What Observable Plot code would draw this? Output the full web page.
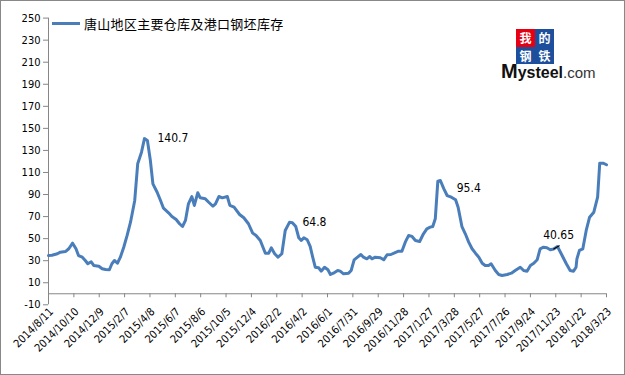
<!DOCTYPE html>
<html><head><meta charset="utf-8">
<script src="https://cdn.jsdelivr.net/npm/d3@7"></script>
<script src="https://cdn.jsdelivr.net/npm/@observablehq/plot@0.6"></script>
<style>
html,body{margin:0;padding:0;background:#fff;}
#wrap{position:relative;width:625px;height:375px;overflow:hidden;background:#fff;}
#chart{position:absolute;left:0;top:0;}
#frame{position:absolute;left:0;top:0;width:623px;height:373px;border:1px solid #888;pointer-events:none;}
#legend{position:absolute;left:52px;top:13px;height:20px;display:flex;align-items:center;font-family:"Noto Sans CJK SC",sans-serif;font-size:13px;letter-spacing:0.3px;color:#000;}
#legend .sw{width:28px;height:3px;background:#4a7ebb;margin-right:4px;}
#logo{position:absolute;left:501px;top:29px;width:95px;height:55px;}
#logo .box{position:absolute;width:19px;height:17.5px;color:#fff;font-family:"Noto Sans CJK SC",serif;font-weight:bold;font-size:12px;display:flex;align-items:center;justify-content:center;}
#logo .word{position:absolute;left:0;top:35px;height:14px;font-family:"Liberation Sans",Arial,sans-serif;color:#111;white-space:nowrap;line-height:14px;}
</style></head>
<body><div id="wrap"><div id="chart"></div>
<div id="legend"><div class="sw"></div><span id="legendText"></span></div>
<div id="logo">
<div class="box" style="left:15px;top:0;background:#e60012"><span>我</span></div>
<div class="box" style="left:34px;top:0;background:#1d4f9c"><span>的</span></div>
<div class="box" style="left:15px;top:17.5px;background:#1d4f9c"><span>钢</span></div>
<div class="box" style="left:34px;top:17.5px;background:#1d4f9c"><span>铁</span></div>
<div class="word"><span style="font-size:20px;font-weight:bold">M</span><span style="font-size:16px;font-weight:bold">ysteel</span><span style="font-size:15px;color:#333">.com</span></div>
</div>
<div id="frame"></div></div>
<script>
const seriesName = "唐山地区主要仓库及港口钢坯库存";
const xTickLabels = ["2014/8/11","2014/10/10","2014/12/9","2015/2/7","2015/4/8","2015/6/7","2015/8/6","2015/10/5","2015/12/4","2016/2/2","2016/4/2","2016/6/1","2016/7/31","2016/9/29","2016/11/28","2017/1/27","2017/3/28","2017/5/27","2017/7/26","2017/9/24","2017/11/23","2018/1/22","2018/3/23"];
const yTicks = [-10,10,30,50,70,90,110,130,150,170,190,210,230,250];
const dates = ["2014-08-11","2014-08-19","2014-09-01","2014-09-08","2014-09-20","2014-09-28","2014-10-07","2014-10-15","2014-10-21","2014-10-30","2014-11-06","2014-11-12","2014-11-20","2014-11-26","2014-12-08","2014-12-16","2014-12-24","2015-01-02","2015-01-08","2015-01-14","2015-01-21","2015-01-28","2015-02-05","2015-02-13","2015-02-21","2015-03-03","2015-03-10","2015-03-19","2015-03-26","2015-04-02","2015-04-09","2015-04-15","2015-04-25","2015-05-03","2015-05-10","2015-05-22","2015-05-30","2015-06-09","2015-06-17","2015-06-24","2015-07-01","2015-07-08","2015-07-16","2015-07-22","2015-07-30","2015-08-05","2015-08-17","2015-08-25","2015-09-04","2015-09-10","2015-09-18","2015-09-26","2015-10-08","2015-10-14","2015-10-24","2015-11-06","2015-11-16","2015-11-27","2015-12-07","2015-12-15","2015-12-25","2016-01-06","2016-01-14","2016-01-20","2016-01-28","2016-02-05","2016-02-14","2016-02-22","2016-03-03","2016-03-10","2016-03-18","2016-03-25","2016-03-31","2016-04-06","2016-04-14","2016-04-21","2016-04-27","2016-05-03","2016-05-11","2016-05-17","2016-05-25","2016-06-02","2016-06-08","2016-06-15","2016-06-25","2016-07-01","2016-07-09","2016-07-21","2016-07-27","2016-08-03","2016-08-11","2016-08-19","2016-08-25","2016-09-02","2016-09-09","2016-09-14","2016-09-22","2016-10-04","2016-10-12","2016-10-20","2016-10-29","2016-11-08","2016-11-16","2016-11-24","2016-12-02","2016-12-10","2016-12-18","2016-12-26","2017-01-05","2017-01-14","2017-01-22","2017-01-30","2017-02-05","2017-02-11","2017-02-17","2017-02-23","2017-03-03","2017-03-11","2017-03-21","2017-03-31","2017-04-06","2017-04-15","2017-04-23","2017-05-01","2017-05-09","2017-05-17","2017-05-25","2017-06-02","2017-06-09","2017-06-17","2017-06-23","2017-07-03","2017-07-11","2017-07-19","2017-07-31","2017-08-10","2017-08-19","2017-08-31","2017-09-08","2017-09-16","2017-09-24","2017-10-02","2017-10-10","2017-10-17","2017-10-25","2017-11-02","2017-11-10","2017-11-18","2017-11-27","2017-12-08","2017-12-18","2017-12-27","2018-01-04","2018-01-10","2018-01-12","2018-01-18","2018-01-26","2018-02-03","2018-02-11","2018-02-21","2018-03-02","2018-03-07","2018-03-15","2018-03-23"];
const values = [34.7,35.0,36.3,37.7,38.3,40.8,45.9,40.8,34.7,33.2,30.2,27.2,29.0,25.7,25.0,22.7,22.0,21.8,27.2,30.2,27.7,33.2,42.2,52.9,64.9,84.6,117.9,128.4,140.7,139.0,120.8,99.7,92.1,84.6,77.6,73.4,70.1,67.4,63.5,61.0,66.5,81.6,88.2,80.1,91.6,87.0,86.1,83.0,79.4,81.6,88.2,87.0,88.2,80.1,78.5,71.9,68.9,63.5,55.0,52.9,48.3,36.8,36.8,41.7,36.3,33.2,36.3,57.4,64.8,64.4,61.0,50.8,48.3,50.8,49.0,42.9,33.2,24.1,23.6,20.5,24.1,21.8,17.5,18.7,21.1,20.5,18.1,18.7,21.1,30.8,33.2,35.6,33.2,31.7,33.8,31.7,33.2,32.6,30.8,35.4,35.6,37.4,38.6,38.6,46.8,52.9,52.0,48.3,47.4,54.4,58.9,60.4,61.0,68.0,102.1,102.7,95.4,89.1,87.6,85.2,78.5,61.0,54.4,46.8,40.8,36.8,33.2,27.7,25.7,25.7,27.2,21.1,17.5,16.6,17.5,18.7,21.1,24.1,21.1,20.5,25.7,27.7,30.8,40.8,42.2,41.7,39.9,40.65,42.9,34.7,27.2,21.1,20.5,24.1,31.7,39.3,40.8,57.4,69.4,74.0,87.6,118.4,118.4,117.0];
const labelDates = ["2015-03-26","2016-03-03","2017-03-03"];
const labelValues = [140.7,64.8,95.4];
const calloutDates = ["2017-11-18"];
const calloutValues = [40.65];

document.getElementById("legendText").textContent = seriesName;
const parse = d3.utcParse("%Y-%m-%d");
const parseTick = d3.utcParse("%Y/%m/%d");
const series = dates.map((d, i) => ({date: parse(d), value: values[i]}));
const xTickDates = xTickLabels.map(parseTick);
const labels = labelDates.map((d, i) => ({date: parse(d), value: labelValues[i], text: String(labelValues[i])}));
const callouts = calloutDates.map((d, i) => ({date: parse(d), value: calloutValues[i], text: String(calloutValues[i])}));
const axisColor = "#868686";
const font = "'DejaVu Sans Condensed','DejaVu Sans',sans-serif";

const chart = Plot.plot({
  width: 625, height: 375,
  marginLeft: 48, marginRight: 19, marginTop: 17.6, marginBottom: 70.7,
  style: {fontFamily: font, fontSize: "11px", color: "#000", background: "transparent", overflow: "visible"},
  x: {type: "utc", domain: [xTickDates[0], xTickDates[xTickDates.length - 1]], axis: null},
  y: {domain: [-10, 250], axis: null},
  marks: [
    Plot.ruleX([xTickDates[0]], {stroke: axisColor}),
    Plot.axisY(yTicks, {anchor: "left", label: null, tickSize: 5, tickPadding: 3, stroke: axisColor, fill: "#000", fontSize: 11, tickFormat: d => String(d)}),
    Plot.ruleY([0], {stroke: axisColor}),
    Plot.ruleX(xTickDates, {x: d => d, y1: 0, y2: 0, insetBottom: -4, stroke: axisColor}),
    Plot.text(xTickDates, {x: d => d, y: 0, text: (d, i) => xTickLabels[i], rotate: -45, textAnchor: "end", dx: 3, dy: 16, fill: "#000", fontSize: 11}),
    Plot.line(series, {x: "date", y: "value", stroke: "#4a7ebb", strokeWidth: 3, strokeLinejoin: "round"}),
    Plot.text(labels, {x: "date", y: "value", text: "text", textAnchor: "start", dx: 13, fontSize: 12, fill: "#000"}),
    Plot.vector(callouts, {x: "date", y: "value", length: 6.5, rotate: 60, anchor: "start", stroke: "#000", strokeWidth: 1,
      shape: {draw(context, l) { context.moveTo(0, 0); context.lineTo(0, -l); }}}),
    Plot.text(callouts, {x: "date", y: "value", text: "text", textAnchor: "middle", dx: 5, dy: -14, fontSize: 12, fill: "#000"})
  ]
});
document.getElementById("chart").appendChild(chart);
</script></body></html>
